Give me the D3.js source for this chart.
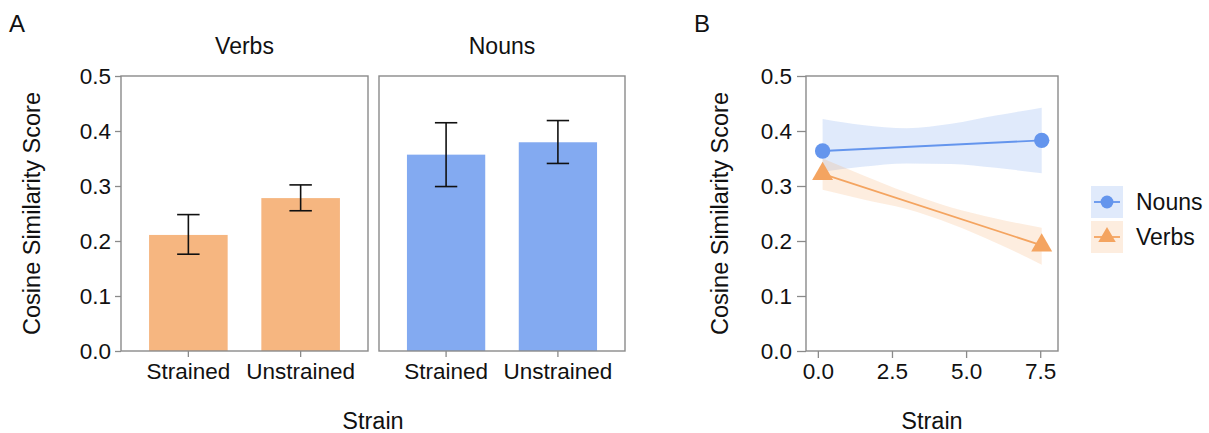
<!DOCTYPE html>
<html>
<head>
<meta charset="utf-8">
<script src="https://cdn.jsdelivr.net/npm/d3@7"></script>
<style>
  body { margin: 0; background: #fff; }
  text { font-family: "Liberation Sans", Arial, sans-serif; fill: #111; }
</style>
</head>
<body>
<div id="chart"></div>
<script>
// ---- data ----
// panel A: bar means with error bars
var conditions = ["Strained", "Unstrained"];
var facets = ["Verbs", "Nouns"];
var verbMeans = [0.211, 0.278];
var verbLow = [0.176, 0.255];
var verbHigh = [0.248, 0.302];
var nounMeans = [0.357, 0.3795];
var nounLow = [0.299, 0.341];
var nounHigh = [0.415, 0.419];

// panel B: strain vs similarity, with confidence ribbons
var strainX = [0.16, 7.55];
var nounLine = [0.3636, 0.383];
var verbLine = [0.322, 0.192];
var bandX = [0.16, 1.5, 3.0, 4.5, 6.0, 7.55];
var nounUpper = [0.422, 0.411, 0.405, 0.413, 0.428, 0.4425];
var nounLower = [0.326, 0.335, 0.341, 0.340, 0.333, 0.323];
var verbUpper = [0.350, 0.320, 0.288, 0.261, 0.241, 0.224];
var verbLower = [0.293, 0.276, 0.258, 0.231, 0.197, 0.157];

var yTicks = [0, 0.1, 0.2, 0.3, 0.4, 0.5];
var xTicksB = [0, 2.5, 5, 7.5];
var legendLabels = ["Nouns", "Verbs"];

// ---- layout ----
var svgWidth = 1209, svgHeight = 433;
var plotTop = 76, plotBottom = 351;
var facetBoxes = [[121, 368], [379, 625]];
var panelB = [806, 1058];

var blue = "#6495ED", orange = "#F4A460";
var borderColor = "#8a8a8a";
var tickFont = 22.5;

var svg = d3.select("#chart").append("svg")
  .attr("width", svgWidth)
  .attr("height", svgHeight);

var yScale = d3.scaleLinear().domain([0, 0.5]).range([plotBottom, plotTop]);

function styleAxis(g, fontSize) {
  g.select(".domain").remove();
  g.selectAll(".tick line").attr("stroke", borderColor).attr("stroke-width", 1.3);
  g.selectAll(".tick text")
    .attr("fill", "#111")
    .style("font-size", fontSize + "px")
    .style("font-family", '"Liberation Sans", Arial, sans-serif');
}

function drawBorder(x0, x1) {
  svg.append("rect")
    .attr("x", x0).attr("y", plotTop)
    .attr("width", x1 - x0).attr("height", plotBottom - plotTop)
    .attr("fill", "none")
    .attr("stroke", borderColor)
    .attr("stroke-width", 1.4);
}

// ---- panel A ----
svg.append("text").attr("x", 9).attr("y", 32)
  .style("font-size", "24px").text("A");

var yAxisA = svg.append("g")
  .attr("transform", `translate(${facetBoxes[0][0]},0)`)
  .call(d3.axisLeft(yScale).tickValues(yTicks).tickFormat(d3.format(".1f")).tickSize(6).tickPadding(4));
styleAxis(yAxisA, tickFont);

var barData = [
  { means: verbMeans, low: verbLow, high: verbHigh, color: orange },
  { means: nounMeans, low: nounLow, high: nounHigh, color: blue }
];

facets.forEach(function(name, f) {
  var box = facetBoxes[f];
  var d = barData[f];
  var xBand = d3.scaleBand().domain(conditions).range(box).paddingInner(0.3).paddingOuter(0.25);

  // strip label
  svg.append("text")
    .attr("x", (box[0] + box[1]) / 2).attr("y", 54)
    .attr("text-anchor", "middle")
    .style("font-size", "23px")
    .text(name);

  var rows = conditions.map((c, i) => ({ cond: c, mean: d.means[i], low: d.low[i], high: d.high[i] }));

  svg.append("g").selectAll("rect")
    .data(rows)
    .enter()
    .append("rect")
    .attr("x", r => xBand(r.cond))
    .attr("y", r => yScale(r.mean))
    .attr("width", xBand.bandwidth())
    .attr("height", r => yScale(0) - yScale(r.mean))
    .attr("fill", d.color)
    .attr("fill-opacity", 0.8);

  // error bars
  var capW = xBand.step() * 0.2;
  var eb = svg.append("g").selectAll("g")
    .data(rows)
    .enter()
    .append("g")
    .attr("stroke", "#111")
    .attr("stroke-width", 1.6)
    .attr("fill", "none");
  eb.append("line")
    .attr("x1", r => xBand(r.cond) + xBand.bandwidth() / 2)
    .attr("x2", r => xBand(r.cond) + xBand.bandwidth() / 2)
    .attr("y1", r => yScale(r.low))
    .attr("y2", r => yScale(r.high));
  eb.append("line")
    .attr("x1", r => xBand(r.cond) + xBand.bandwidth() / 2 - capW / 2)
    .attr("x2", r => xBand(r.cond) + xBand.bandwidth() / 2 + capW / 2)
    .attr("y1", r => yScale(r.high))
    .attr("y2", r => yScale(r.high));
  eb.append("line")
    .attr("x1", r => xBand(r.cond) + xBand.bandwidth() / 2 - capW / 2)
    .attr("x2", r => xBand(r.cond) + xBand.bandwidth() / 2 + capW / 2)
    .attr("y1", r => yScale(r.low))
    .attr("y2", r => yScale(r.low));

  var xAxis = svg.append("g")
    .attr("transform", `translate(0,${plotBottom})`)
    .call(d3.axisBottom(xBand).tickSize(6).tickPadding(6));
  styleAxis(xAxis, tickFont);

  drawBorder(box[0], box[1]);
});

svg.append("text")
  .attr("x", (facetBoxes[0][0] + facetBoxes[1][1]) / 2).attr("y", 429)
  .attr("text-anchor", "middle")
  .style("font-size", "23.5px")
  .text("Strain");

svg.append("text")
  .attr("transform", `translate(40,${(plotTop + plotBottom) / 2}) rotate(-90)`)
  .attr("text-anchor", "middle")
  .style("font-size", "23.5px")
  .text("Cosine Similarity Score");

// ---- panel B ----
svg.append("text").attr("x", 694).attr("y", 32)
  .style("font-size", "24px").text("B");

var xScaleB = d3.scaleLinear().domain([-0.4, 8.1]).range(panelB);

var yAxisB = svg.append("g")
  .attr("transform", `translate(${panelB[0]},0)`)
  .call(d3.axisLeft(yScale).tickValues(yTicks).tickFormat(d3.format(".1f")).tickSize(9).tickPadding(5));
styleAxis(yAxisB, tickFont);

var xAxisB = svg.append("g")
  .attr("transform", `translate(0,${plotBottom})`)
  .call(d3.axisBottom(xScaleB).tickValues(xTicksB).tickFormat(d3.format(".1f")).tickSize(7).tickPadding(5));
styleAxis(xAxisB, tickFont);

var series = [
  { name: "Nouns", color: blue, line: nounLine, upper: nounUpper, lower: nounLower, shape: d3.symbolCircle, size: 185 },
  { name: "Verbs", color: orange, line: verbLine, upper: verbUpper, lower: verbLower, shape: d3.symbolTriangle, size: 190 }
];

var ribbon = d3.area()
  .x((d, i) => xScaleB(bandX[i]))
  .y0(d => yScale(d[0]))
  .y1(d => yScale(d[1]))
  .curve(d3.curveMonotoneX);

series.forEach(function(s) {
  svg.append("path")
    .datum(bandX.map((x, i) => [s.lower[i], s.upper[i]]))
    .attr("d", ribbon)
    .attr("fill", s.color)
    .attr("fill-opacity", 0.2);
});

series.forEach(function(s) {
  var pts = strainX.map((x, i) => [xScaleB(x), yScale(s.line[i])]);
  svg.append("path")
    .datum(pts)
    .attr("d", d3.line())
    .attr("fill", "none")
    .attr("stroke", s.color)
    .attr("stroke-width", 1.8);
  svg.append("g").selectAll("path")
    .data(pts)
    .enter()
    .append("path")
    .attr("transform", p => `translate(${p[0]},${p[1]})`)
    .attr("d", d3.symbol().type(s.shape).size(s.size))
    .attr("fill", s.color);
});

drawBorder(panelB[0], panelB[1]);

svg.append("text")
  .attr("x", (panelB[0] + panelB[1]) / 2).attr("y", 429)
  .attr("text-anchor", "middle")
  .style("font-size", "23.5px")
  .text("Strain");

svg.append("text")
  .attr("transform", `translate(728,${(plotTop + plotBottom) / 2}) rotate(-90)`)
  .attr("text-anchor", "middle")
  .style("font-size", "23.5px")
  .text("Cosine Similarity Score");

// ---- legend ----
var legend = svg.append("g").attr("transform", "translate(1091,186)");
var keySize = 32, keyGap = 3;
series.forEach(function(s, i) {
  var k = legend.append("g").attr("transform", `translate(0,${i * (keySize + keyGap)})`);
  k.append("rect")
    .attr("width", keySize).attr("height", keySize)
    .attr("fill", s.color).attr("fill-opacity", 0.2);
  k.append("line")
    .attr("x1", 3).attr("x2", keySize - 3)
    .attr("y1", keySize / 2).attr("y2", keySize / 2)
    .attr("stroke", s.color).attr("stroke-width", 1.8);
  k.append("path")
    .attr("transform", `translate(${keySize / 2},${keySize / 2})`)
    .attr("d", d3.symbol().type(s.shape).size(s.size * 0.7))
    .attr("fill", s.color);
  k.append("text")
    .attr("x", keySize + 13).attr("y", keySize / 2)
    .attr("dy", "0.35em")
    .style("font-size", "23px")
    .text(legendLabels[i]);
});
</script>
</body>
</html>
